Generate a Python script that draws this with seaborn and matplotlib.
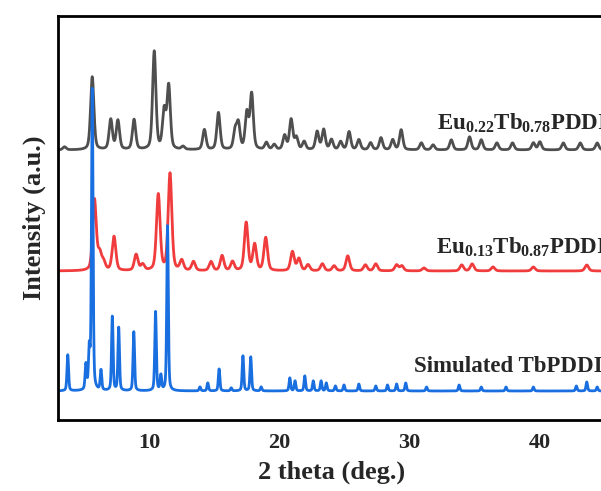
import numpy as np
import pandas as pd
import matplotlib
matplotlib.use("Agg")
import matplotlib.pyplot as plt
import seaborn as sns

# ---- data (peak position in deg, peak height in a.u.) ----
sample_names = ["Eu$_{0.22}$Tb$_{0.78}$PDDI", "Eu$_{0.13}$Tb$_{0.87}$PDDI", "Simulated TbPDDI"]
offsets = [270, 149, 29]

gray_pos = [3.5, 5.63, 7.05, 7.6, 8.84, 10.39, 11.15, 11.5, 12.6, 14.24, 15.32, 16.6, 16.85, 17.5, 17.87,
            19.0, 19.6, 20.4, 20.9, 21.3, 21.9, 22.9, 23.4, 24.0, 24.7, 25.35, 26.1, 27.0, 27.8, 28.7,
            29.35, 30.9, 31.8, 33.2, 34.6, 35.5, 36.7, 37.9, 39.5, 40.0, 41.8, 43.1, 44.4]
gray_h = [3, 73, 30, 29, 30, 98, 38, 63, 3, 20, 37, 18, 25, 36, 55,
          7, 5, 14, 30, 12, 8, 18, 20, 10, 8, 18, 10, 7, 12, 10,
          20, 7, 5, 10, 13, 10, 7, 7, 7, 8, 7, 7, 7]

red_pos = [5.8, 6.2, 6.5, 7.3, 9.0, 9.5, 10.7, 11.6, 12.5, 13.4, 14.75, 15.6, 16.4, 17.45, 18.1, 18.95,
           21.0, 21.5, 22.2, 23.3, 24.2, 25.25, 26.6, 27.4, 29.0, 29.4, 31.1, 34.0, 34.8, 36.4, 39.5, 43.6]
red_h = [71, 16, 8, 34, 16, 6, 76, 97, 10, 9, 9, 15, 9, 48, 26, 33,
         19, 12, 6, 7, 5, 15, 6, 7, 6, 5, 3, 6, 7, 4, 4, 6]

blue_pos = [3.75, 5.14, 5.4, 5.63, 6.3, 7.17, 7.66, 8.82, 10.49, 10.9, 11.41, 13.9, 14.5, 15.37, 16.3,
            17.2, 17.8, 18.6, 20.8, 21.2, 21.95, 22.6, 23.2, 23.6, 24.3, 24.96, 26.1, 27.4, 28.3, 29.0,
            29.7, 31.3, 33.8, 35.5, 37.4, 39.5, 42.8, 43.6, 44.4]
blue_h = [36, 25, 39, 301, 20, 74, 63, 59, 79, 15, 165, 4, 8, 22, 3,
          35, 34, 4, 13, 10, 15, 10, 10, 8, 5, 6, 7, 5, 6, 7,
          8, 4, 6, 4, 4, 4, 5, 9, 4]

xticks = [10, 20, 30, 40]


def pattern(x, pos, h, fwhm):
    y = np.zeros_like(x)
    g = fwhm / 2.0
    for p, a in zip(pos, h):
        lor = g**2 / ((x - p) ** 2 + g**2)
        gau = np.exp(-np.log(2) * ((x - p) / g) ** 2)
        y += a * (0.6 * gau + 0.4 * lor)
    return y


x = np.arange(2.9, 45.2, 0.01)
series = [
    (gray_pos, gray_h, 0.30, "#4f4f4f"),
    (red_pos, red_h, 0.33, "#f03c3c"),
    (blue_pos, blue_h, 0.14, "#1a6fe0"),
]

sns.set_theme(style="white")
plt.rcParams["font.family"] = ["Liberation Serif", "DejaVu Serif"]
plt.rcParams["font.weight"] = "bold"
plt.rcParams["mathtext.fontset"] = "custom"
plt.rcParams["mathtext.rm"] = "Liberation Serif:bold"
plt.rcParams["mathtext.it"] = "Liberation Serif:bold"
plt.rcParams["mathtext.bf"] = "Liberation Serif:bold"

fig = plt.figure(figsize=(6.01, 4.91), dpi=100)
ax = fig.add_axes([58 / 601, 71 / 491, 547 / 601, 404 / 491])

for (pos, h, w, col), off in zip(series, offsets):
    df = pd.DataFrame({"x": x, "y": off + pattern(x, pos, h, w)})
    sns.lineplot(data=df, x="x", y="y", ax=ax, color=col, lw=2.0, estimator=None, sort=False)

ax.set_xlim(3.0, 45.0)
ax.set_ylim(0, 404)
ax.set_xticks(xticks)
ax.set_xticklabels([str(t) for t in xticks], fontsize=16, fontweight="bold")
ax.set_yticks([])
ax.tick_params(axis="x", length=0, pad=9)
for s in ax.spines.values():
    s.set_color("black")
    s.set_linewidth(2.0)
ax.set_xlabel("2 theta (deg.)", fontsize=19, fontweight="bold", labelpad=6)
ax.set_ylabel("Intensity (a.u.)", fontsize=19, fontweight="bold", labelpad=9)

label_x = [32.1, 32.05, 30.35]
label_y = [290, 166, 48]
for name, lx, ly in zip(sample_names, label_x, label_y):
    ax.text(lx, ly, name, fontsize=16.5, fontweight="bold", ha="left", va="baseline")

fig.savefig("out.png", dpi=100)
